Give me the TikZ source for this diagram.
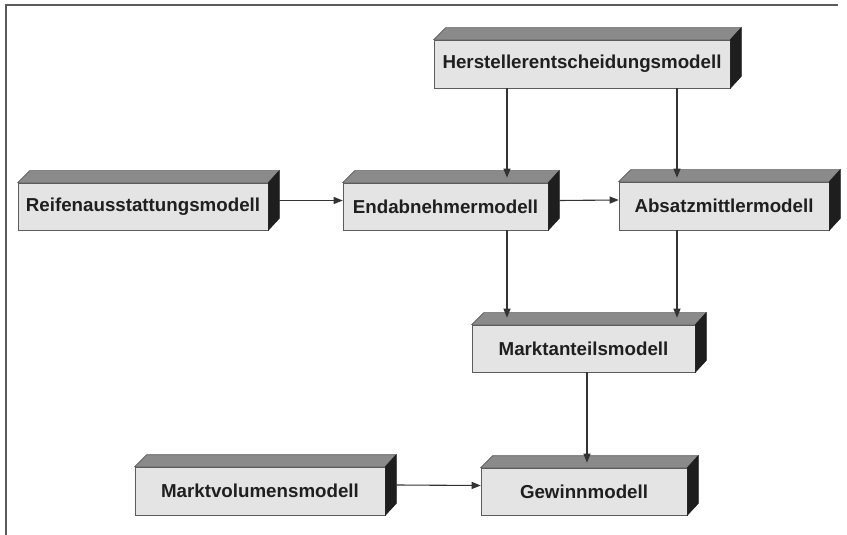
\documentclass[tikz,border=0pt]{standalone}
\usepackage{fontspec}
\setmainfont{Liberation Sans}
\usetikzlibrary{arrows.meta,calc}
\definecolor{frontc}{HTML}{E4E4E4}
\definecolor{topc}{HTML}{8A8A8A}
\definecolor{sidec}{HTML}{1E1E1E}
\definecolor{linec}{HTML}{333333}
\definecolor{framec}{HTML}{5A5A5A}
\begin{document}
\begin{tikzpicture}[x=1bp,y=-1bp,
  blk/.style={rectangle, draw=linec!80, line width=0.6bp, fill=frontc, inner sep=0pt,
    minimum height=47bp, font=\fontsize{18.8}{22}\selectfont\bfseries, text=black!88},
  arr/.style={draw=linec, line width=1.1bp, -{Triangle[length=9bp,width=7bp]}},
  topface/.style={fill=topc, draw=linec!80, line width=0.6bp},
  sideface/.style={fill=sidec, draw=sidec, line width=0.6bp}]
\useasboundingbox (0,0) rectangle (847,535);
\fill[white] (0,0) rectangle (847,535);
\draw[framec, line width=1.2bp] (6,535) -- (6,5) -- (838,5);

\node[blk, minimum width=296bp, minimum height=48bp] (H) at (582,64) {Herstellerentscheidungsmodell};
\node[blk, minimum width=250bp] (R) at (143,206.5) {Reifenausstattungsmodell};
\node[blk, minimum width=205bp] (E) at (445.5,206.5) {Endabnehmermodell};
\node[blk, minimum width=210bp, minimum height=48bp] (A) at (724,206) {Absatzmittlermodell};
\node[blk, minimum width=223bp] (M) at (583.5,348.5) {Marktanteilsmodell};
\node[blk, minimum width=250bp, minimum height=48bp] (V) at (260,491) {Marktvolumensmodell};
\node[blk, minimum width=206bp] (G) at (584,491.5) {Gewinnmodell};

\foreach \n in {H,R,E,A,M,V,G} {
  \path[topface] (\n.north west) -- ++(12,-12) -- ([shift={(11bp,12bp)}]\n.north east) -- (\n.north east) -- cycle;
  \path[sideface] (\n.north east) -- ++(11,-12) -- ([shift={(11bp,12bp)}]\n.south east) -- (\n.south east) -- cycle;
}

\coordinate (xl) at (507,0);
\coordinate (xr) at (677,0);
\coordinate (xm) at (587,0);

\draw[arr] ([shift={(11bp,6bp)}]R.east) -- ([yshift=6bp]E.west);
\draw[arr] ([shift={(11bp,6bp)}]E.east) -- ([yshift=6bp]A.west);
\draw[arr] ([shift={(11bp,6bp)}]V.east) -- ([yshift=6bp]G.west);

\draw[arr] (xl |- H.south) -- ($(xl |- E.north)+(0,-5)$);
\draw[arr] (xr |- H.south) -- ($(xr |- A.north)+(0,-4)$);
\draw[arr] (xl |- E.south) -- ($(xl |- M.north)+(0,-7)$);
\draw[arr] (xr |- A.south) -- ($(xr |- M.north)+(0,-7)$);
\draw[arr] (xm |- M.south) -- ($(xm |- G.north)+(0,-5)$);
\end{tikzpicture}
\end{document}
